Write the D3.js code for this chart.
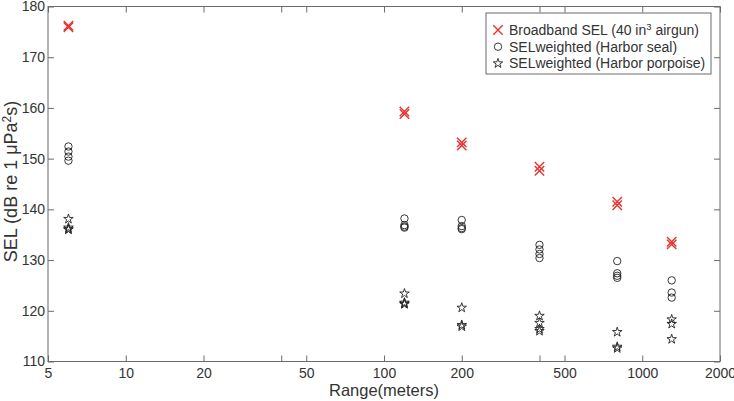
<!DOCTYPE html>
<html>
<head>
<meta charset="utf-8">
<script src="https://cdn.jsdelivr.net/npm/d3@7"></script>
<style>
  body { margin: 0; background: #fff; }
  text { font-family: "Liberation Sans", Arial, sans-serif; }
</style>
</head>
<body>
<script>
// data
var ranges = [6, 120, 200, 400, 800, 1300];
var broadband = [
  [176.2, 175.9],
  [159.3, 158.8],
  [153.2, 152.6],
  [148.4, 147.6],
  [141.5, 140.8],
  [133.6, 133.1]
];
var sealSEL = [
  [152.4, 151.4, 150.4, 149.6],
  [138.2, 136.9, 136.6, 136.4],
  [137.9, 136.7, 136.3, 136.1],
  [133.0, 132.1, 131.2, 130.4],
  [129.8, 127.4, 126.9, 126.5],
  [126.0, 123.6, 122.6]
];
var porpoiseSEL = [
  [138.1, 136.4, 136.0, 136.1],
  [123.4, 121.6, 121.3, 121.4],
  [120.6, 117.2, 116.9],
  [119.0, 117.6, 116.4, 116.0],
  [115.8, 112.9, 112.6],
  [118.3, 117.4, 114.4]
];
var xTicks = [5, 10, 20, 40, 50, 100, 200, 400, 500, 1000, 2000];
var xTickLabels = ["5", "10", "20", "", "50", "100", "200", "", "500", "1000", "2000"];
var yTicks = [110, 120, 130, 140, 150, 160, 170, 180];
var legendNames = ["Broadband SEL (40 in", "SELweighted (Harbor seal)", "SELweighted (Harbor porpoise)"];

// Chart Params
var svgWidth = 734;
var svgHeight = 401;
var margin = { top: 6.5, right: 14, bottom: 39.5, left: 48 };
var width = svgWidth - margin.left - margin.right;
var height = svgHeight - margin.top - margin.bottom;
var fs = 14;

var svg = d3.select("body").append("svg")
  .attr("width", svgWidth)
  .attr("height", svgHeight);

var chartGroup = svg.append("g")
  .attr("transform", `translate(${margin.left}, ${margin.top})`);

var x = d3.scaleLog().domain([5, 2000]).range([0, width]);
var y = d3.scaleLinear().domain([110, 180]).range([height, 0]);

var axisColor = "#6b6b6b";
var textColor = "#333";

// frame
chartGroup.append("rect")
  .attr("width", width).attr("height", height)
  .attr("fill", "none").attr("stroke", axisColor).attr("stroke-width", 1);

// inward ticks on all four sides
function styleAxis(g) {
  g.select(".domain").remove();
  g.selectAll(".tick line").attr("stroke", axisColor);
  g.selectAll(".tick text").attr("fill", textColor).attr("font-size", fs);
}

chartGroup.append("g")
  .attr("transform", `translate(0, ${height})`)
  .call(d3.axisBottom(x).tickValues(xTicks).tickFormat((d, i) => xTickLabels[i])
    .tickSizeInner(-6).tickPadding(7))
  .call(styleAxis);

chartGroup.append("g")
  .call(d3.axisTop(x).tickValues(xTicks).tickFormat("").tickSizeInner(-6))
  .call(styleAxis);

chartGroup.append("g")
  .call(d3.axisLeft(y).tickValues(yTicks).tickSizeInner(-6).tickPadding(3))
  .call(styleAxis);

chartGroup.append("g")
  .attr("transform", `translate(${width}, 0)`)
  .call(d3.axisRight(y).tickValues(yTicks).tickFormat("").tickSizeInner(-6))
  .call(styleAxis);

// axis titles
svg.append("text")
  .attr("x", margin.left + x(100)).attr("y", 396)
  .attr("text-anchor", "middle").attr("font-size", 16.5).attr("fill", textColor)
  .text("Range(meters)");

var yTitle = svg.append("text")
  .attr("transform", `translate(17, ${margin.top + 175}) rotate(-90)`)
  .attr("text-anchor", "middle").attr("font-size", 18).attr("fill", textColor);
yTitle.append("tspan").text("SEL (dB re 1 \u03bcPa");
yTitle.append("tspan").attr("font-size", 12).attr("dy", -6).text("2");
yTitle.append("tspan").attr("dy", 6).text("s)");

// markers
var red = "#e5332f";
function crossPath(s) {
  return `M${-s},${-s}L${s},${s}M${-s},${s}L${s},${-s}`;
}
var starPath = d3.symbol(d3.symbolStar).size(28)();

function flatten(arr) {
  var out = [];
  arr.forEach((vals, i) => vals.forEach(v => out.push({ r: ranges[i], v: v })));
  return out;
}

chartGroup.selectAll(".circ")
  .data(flatten(sealSEL))
  .enter()
  .append("circle")
  .attr("cx", d => x(d.r))
  .attr("cy", d => y(d.v))
  .attr("r", 3.7)
  .attr("fill", "none")
  .attr("stroke", "#222")
  .attr("stroke-width", 0.9);

chartGroup.selectAll(".star")
  .data(flatten(porpoiseSEL))
  .enter()
  .append("path")
  .attr("d", starPath)
  .attr("transform", d => `translate(${x(d.r)}, ${y(d.v)})`)
  .attr("fill", "none")
  .attr("stroke", "#222")
  .attr("stroke-width", 0.9);

chartGroup.selectAll(".cross")
  .data(flatten(broadband))
  .enter()
  .append("path")
  .attr("d", crossPath(4.7))
  .attr("transform", d => `translate(${x(d.r)}, ${y(d.v)})`)
  .attr("fill", "none")
  .attr("stroke", red)
  .attr("stroke-width", 1.4);

// legend
var legend = svg.append("g").attr("transform", "translate(486, 13)");
legend.append("rect")
  .attr("width", 225).attr("height", 61)
  .attr("fill", "#fff").attr("stroke", axisColor).attr("stroke-width", 1);

var legendRows = legend.selectAll(".row")
  .data(legendNames)
  .enter()
  .append("g")
  .attr("transform", (d, i) => `translate(0, ${17 + i * 16.7})`);

legendRows.each(function(d, i) {
  var g = d3.select(this);
  if (i == 0) {
    g.append("path").attr("d", crossPath(4.7)).attr("transform", "translate(12, 0)")
      .attr("fill", "none").attr("stroke", red).attr("stroke-width", 1.4);
  } else if (i == 1) {
    g.append("circle").attr("cx", 12).attr("r", 3.7)
      .attr("fill", "none").attr("stroke", "#222").attr("stroke-width", 0.9);
  } else {
    g.append("path").attr("d", starPath).attr("transform", "translate(12, 0)")
      .attr("fill", "none").attr("stroke", "#222").attr("stroke-width", 0.9);
  }
  var t = g.append("text").attr("x", 23).attr("y", 5)
    .attr("font-size", fs).attr("fill", textColor).text(d);
  if (i == 0) {
    t.append("tspan").attr("font-size", 9.5).attr("dy", -5).text("3");
    t.append("tspan").attr("dy", 5).text(" airgun)");
  }
});
</script>
</body>
</html>
